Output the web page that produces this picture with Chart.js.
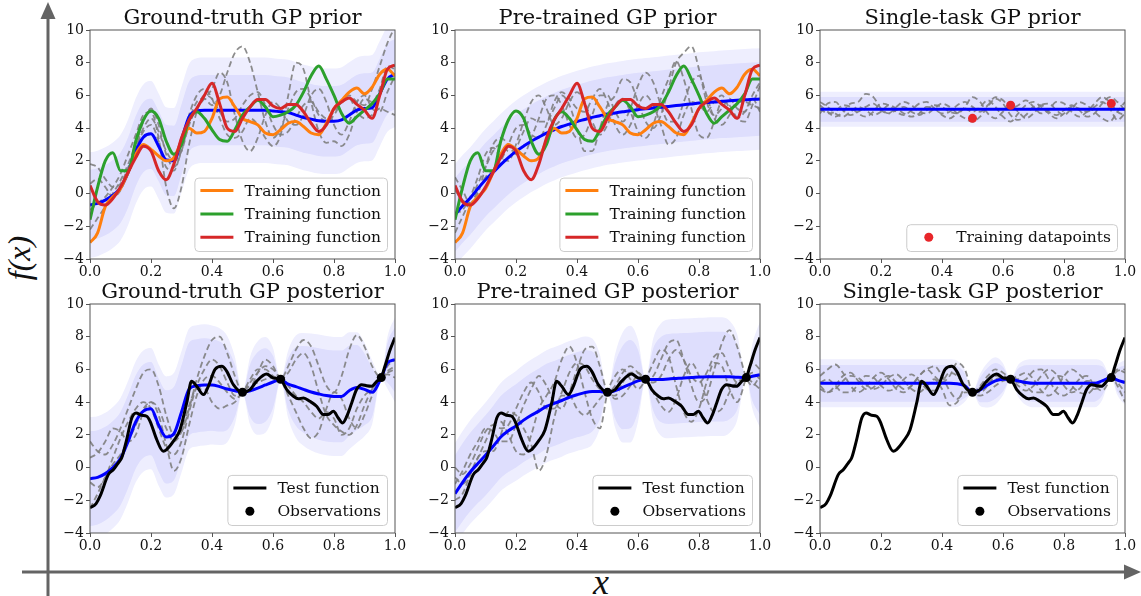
<!DOCTYPE html>
<html>
<head>
<meta charset="utf-8">
<script src="https://cdn.jsdelivr.net/npm/chart.js@4.4.1/dist/chart.umd.min.js"></script>
<style>
  html, body { margin: 0; padding: 0; background: #fff; }
  #fig { position: relative; width: 1141px; height: 596px; overflow: hidden; }
  #fig canvas { position: absolute; }
  .axlabel { position: absolute; font-family: 'Liberation Serif', serif; font-style: italic; color: #111; white-space: nowrap; line-height: 1; }
</style>
</head>
<body>
<div id="fig">
  <svg width="1141" height="596" style="position:absolute;left:0;top:0">
    <line x1="48" y1="596" x2="48" y2="16" stroke="#646464" stroke-width="3"/>
    <polygon points="48,2 40.5,19 55.5,19" fill="#646464"/>
    <line x1="22" y1="572" x2="1126" y2="572" stroke="#646464" stroke-width="3"/>
    <polygon points="1141,572 1124,564.5 1124,579.5" fill="#646464"/>
  </svg>
  <div class="axlabel" style="left:19px;top:258px;font-size:32px;transform:translate(-50%,-50%) rotate(-90deg)">f(x)</div>
  <div class="axlabel" style="left:601px;top:582px;font-size:36px;transform:translate(-50%,-50%)">x</div>
  <canvas id="gtPrior" width="367" height="283"></canvas>
  <canvas id="ptPrior" width="367" height="283"></canvas>
  <canvas id="stPrior" width="367" height="283"></canvas>
  <canvas id="gtPost" width="367" height="283"></canvas>
  <canvas id="ptPost" width="367" height="283"></canvas>
  <canvas id="stPost" width="367" height="283"></canvas>
</div>
<script>
// x grids (prior panels use a regular grid, posterior grid hits the last observation at 0.955)
const xs = [0,0.025,0.05,0.075,0.1,0.125,0.15,0.175,0.2,0.225,0.25,0.275,0.3,0.325,0.35,0.375,0.4,0.425,0.45,0.475,0.5,0.525,0.55,0.575,0.6,0.625,0.65,0.675,0.7,0.725,0.75,0.775,0.8,0.825,0.85,0.875,0.9,0.925,0.95,0.975,1];
const xsPost = [0,0.025,0.05,0.075,0.1,0.125,0.15,0.175,0.2,0.225,0.25,0.275,0.3,0.325,0.35,0.375,0.4,0.425,0.45,0.475,0.5,0.525,0.55,0.575,0.6,0.625,0.65,0.675,0.7,0.725,0.75,0.775,0.8,0.825,0.85,0.875,0.9,0.925,0.955,0.975,1];
const xEnds = [0, 1];

// training functions (shared by the two multi-task priors)
const trainOrange = [-3.0,-2.4,-0.8,-0.2,0.3,1.3,2.4,3.0,2.7,2.3, 2.0,2.2,3.2,4.0,3.7,3.8,4.6,5.8,5.9,5.3, 4.6,4.4,4.2,3.7,3.6,3.9,4.3,4.4,4.1,3.7, 3.6,4.3,5.2,5.7,6.2,6.45,6.1,6.5,7.3,7.6, 7.2];
const trainGreen = [-1.6,0.4,2.0,2.5,1.4,1.4,3.2,4.5,5.05,4.6, 3.2,2.4,3.0,4.5,5.0,4.6,3.9,3.3,3.2,3.9, 4.8,5.3,5.7,5.3,4.7,4.8,5.0,5.4,6.2,7.2, 7.8,7.0,6.0,4.9,4.3,4.7,5.1,5.5,6.1,7.0, 7.0];
const trainRed = [0.5,-0.5,-0.7,-0.3,0.4,1.3,2.2,2.9,2.6,1.4, 0.85,1.8,3.4,4.5,5.2,6.0,6.75,5.5,4.0,3.8, 4.6,5.3,5.75,5.75,5.35,5.2,5.45,5.45,5.0,4.3, 3.8,4.2,5.2,5.6,5.85,5.45,5.1,4.6,6.0,7.6, 7.85];

// test function and its three observations
const testX = [0,0.02,0.033,0.06,0.077,0.093,0.104,0.12,0.137,0.151,0.169,0.186,0.197,0.219,0.24,0.251,0.273,0.295,0.317,0.333,0.35,0.372,0.388,0.41,0.432,0.448,0.47,0.5,0.525,0.546,0.579,0.601,0.625,0.645,0.667,0.683,0.7,0.721,0.743,0.765,0.781,0.798,0.814,0.828,0.842,0.858,0.874,0.891,0.907,0.923,0.94,0.955,0.967,0.984,1];
const testY = [-2.46,-2.2,-1.75,-0.43,-0.12,0.29,0.6,1.7,3.03,3.34,3.2,3.14,2.83,1.7,1.0,1.1,1.6,2.3,3.95,5.27,4.97,4.46,4.97,6.0,6.19,5.9,5.07,4.6,4.77,5.27,5.72,5.48,5.4,4.77,4.36,4.2,4.26,4.05,3.75,3.24,3.24,3.44,3.03,2.73,3.14,3.95,4.77,5.07,5.0,4.97,5.27,5.5,6.19,7.2,7.95];
const obsX = [0.5, 0.625, 0.955];
const obsY = [4.6, 5.4, 5.5];

// ground-truth GP prior
const gtPriorMean = [-0.7,-0.6,-0.4,-0.1,0.35,1.3,2.6,3.45,3.65,2.9, 2.05,2.0,3.3,4.7,5.05,5.1,5.1,5.1,5.1,5.1, 5.1,5.1,5.1,5.1,5.05,5.0,4.95,4.8,4.65,4.55, 4.45,4.42,4.42,4.5,4.8,5.1,5.2,5.25,6.1,7.0, 7.3];
const gtPriorSd = 2.15, gtPriorOuter = 1.5;
const gtPriorS1 = [-2.2,-1.5,-0.8,0.0,0.8,1.8,3.0,4.4,5.2,4.2, 2.4,1.6,2.6,4.4,5.6,5.8,5.4,6.0,7.4,8.6, 9.0,8.0,6.2,4.4,3.4,4.0,5.2,6.2,6.4,5.8, 4.8,4.4,4.8,5.6,6.0,5.6,5.4,6.4,7.8,9.2, 10.2];
const gtPriorS2 = [1.8,1.6,0.9,0.4,0.6,1.6,2.8,3.8,4.2,3.2, 1.6,1.4,2.8,4.8,6.0,6.4,5.8,4.6,3.6,3.4, 3.8,4.6,4.2,3.4,2.9,3.6,6.0,8.0,7.6,5.6, 3.8,3.1,3.2,2.9,3.6,5.0,5.8,5.6,6.4,7.8, 7.6];
const gtPriorS3 = [-1.0,-0.6,-0.2,0.4,1.2,2.4,3.6,4.8,5.0,3.4, 0.4,-0.9,0.4,3.0,5.0,6.0,5.8,5.0,4.4,4.6, 5.4,6.0,6.2,5.4,4.2,3.6,3.8,4.6,5.4,5.6, 5.0,4.6,5.0,5.6,5.8,5.0,4.6,4.8,5.2,5.0, 4.8];
const gtPriorS4 = [0.6,0.9,0.4,-0.2,0.2,1.4,2.8,4.0,4.6,3.8, 2.6,2.0,2.6,4.2,5.2,5.8,6.4,7.4,6.8,4.8, 3.2,2.6,3.4,4.8,5.6,5.2,4.4,4.2,4.8,6.0, 6.4,5.6,4.2,3.6,4.4,5.6,6.0,5.2,5.0,6.2, 7.2];

// pre-trained GP prior
const ptPriorMean = [-1.3,-0.75,-0.27,0.3,0.85,1.3,1.77,2.2,2.58,2.9, 3.2,3.45,3.7,3.9,4.1,4.25,4.4,4.53,4.66,4.76, 4.86,4.93,5.0,5.07,5.13,5.18,5.23,5.28,5.33,5.38, 5.43,5.48,5.53,5.57,5.6,5.64,5.67,5.7,5.73,5.76, 5.78];
const ptPriorSd = 2.25, ptPriorOuter = 1.38;
const ptPriorS1 = [-2.4,-1.4,-0.4,0.6,1.6,2.6,3.0,2.6,2.8,3.8, 4.6,4.4,4.4,5.2,6.0,5.4,4.0,2.6,2.6,4.0, 5.4,6.0,7.0,6.8,5.6,4.4,4.0,4.8,6.4,8.0, 8.6,9.0,7.6,5.6,4.8,5.2,5.8,5.2,5.0,6.0, 6.8];
const ptPriorS2 = [1.0,0.2,-0.6,0.0,1.6,3.0,3.4,3.0,2.4,2.4, 3.4,4.6,5.8,6.0,5.4,4.2,3.4,3.6,4.8,6.0, 6.0,5.0,4.4,5.2,6.6,7.4,6.8,5.4,4.4,4.4, 5.6,6.8,7.2,6.0,4.6,4.2,4.8,5.6,5.6,5.4, 5.2];
const ptPriorS3 = [-1.2,-1.0,-0.2,1.0,2.4,2.8,2.2,2.0,3.0,4.4, 5.6,6.0,5.2,4.2,4.6,5.6,6.2,5.6,4.4,3.6, 4.2,5.4,5.8,5.0,3.8,3.4,4.2,5.8,7.0,8.1, 7.0,5.2,3.6,3.4,4.4,5.6,5.4,4.6,4.4,5.4, 6.6];
const ptPriorS4 = [0.2,-0.4,-0.6,0.2,1.0,1.4,2.0,3.0,4.0,4.2, 3.6,3.4,4.2,5.6,6.2,5.8,5.2,5.0,5.8,6.4, 5.6,4.2,3.6,4.2,5.4,6.0,5.4,4.2,3.0,3.4, 4.8,5.6,5.4,5.0,5.6,6.0,5.2,4.6,5.0,5.8, 5.0];

// single-task GP prior
const stPriorMean = 5.15, stPriorSd = 0.76, stPriorOuter = 1.41;
const stPriorS1 = [5.4,5.0,4.7,5.0,5.5,5.6,6.1,5.9,5.2,4.9, 5.1,5.3,5.0,4.8,5.1,5.4,5.3,5.0,4.9,5.3, 5.9,5.6,4.9,4.6,5.0,5.4,5.0,4.6,4.9,5.4, 5.5,5.1,4.8,5.2,5.6,5.4,5.0,4.6,4.4,5.0, 5.6];
const stPriorS2 = [4.9,5.5,5.6,5.1,4.8,5.0,5.3,5.5,5.1,4.9, 5.3,5.6,5.4,5.0,4.9,5.2,5.5,5.3,4.9,4.6, 4.4,4.7,5.3,5.8,5.5,4.8,4.5,4.8,5.3,5.4, 5.0,4.8,5.1,5.4,5.1,4.7,4.9,5.5,5.9,5.6, 5.1];
const stPriorS3 = [5.2,4.9,5.0,5.4,5.3,4.9,4.7,5.0,5.5,5.4, 5.0,4.8,5.1,5.5,5.6,5.2,4.9,5.0,5.4,5.6, 5.3,5.0,5.4,5.9,5.7,5.2,5.4,5.7,5.3,4.9, 5.1,5.6,5.5,5.0,4.7,5.0,5.5,5.9,5.6,5.0, 4.8];
const stPriorS4 = [5.6,5.3,4.9,4.7,5.0,5.3,5.1,4.8,5.0,5.4, 5.2,4.9,4.7,4.9,5.3,5.2,4.8,4.6,4.9,5.2, 5.0,5.3,5.7,5.3,4.7,4.4,4.9,5.4,5.6,5.3, 4.9,4.6,4.9,5.3,5.2,5.0,5.3,5.6,5.2,4.5, 4.9];

// ground-truth GP posterior
const gtPostMean = [-0.68,-0.6,-0.37,0.0,0.55,1.6,2.8,3.45,3.6,2.6, 1.87,2.07,3.4,4.8,5.0,5.05,5.05,4.95,4.8,4.7, 4.6,4.7,4.86,5.05,5.23,5.37,5.1,4.95,4.78,4.62, 4.5,4.4,4.35,4.35,4.7,4.9,4.78,4.6,5.5,6.4, 6.6];
const gtPostSd = [2.9,2.88,2.86,2.85,2.85,2.85,2.85,2.85,2.85,2.85, 2.85,2.85,2.85,2.85,2.85,2.85,2.8,2.75,2.5,1.6, 0.05,1.6,2.2,2.25,1.6,0.05,1.6,2.4,2.65,2.75, 2.8,2.8,2.8,2.8,2.75,2.6,2.2,1.5,0.05,1.2, 2.0];
const gtPostOuter = 1.3;
const gtPostS1 = [1.6,1.0,0.8,1.4,2.4,3.6,4.8,5.8,6.0,5.0, 3.2,2.0,2.2,3.6,5.4,6.8,7.8,8.0,7.0,5.6, 4.6,4.8,5.8,6.6,6.2,5.4,6.2,7.2,7.8,7.4, 6.2,5.0,4.6,5.6,7.2,8.1,7.4,6.2,5.5,5.9, 6.2];
const gtPostS2 = [0.6,0.9,1.6,2.4,2.2,1.6,2.0,3.4,4.0,3.2, 1.4,-0.2,0.6,2.6,4.4,5.4,5.6,5.2,4.6,4.2, 4.6,5.2,5.8,6.2,6.0,5.4,4.4,3.4,2.4,1.8, 2.2,3.6,4.6,4.2,3.0,2.4,3.2,4.4,5.5,6.2, 6.6];
const gtPostS3 = [-0.9,-1.2,-0.6,0.6,1.8,2.8,3.6,4.0,3.6,2.4, 1.2,0.8,1.6,3.4,5.0,6.0,6.6,6.2,5.2,4.4, 4.6,5.4,6.0,6.0,5.6,5.4,5.8,6.6,7.0,6.2, 4.6,3.2,2.6,2.2,2.0,2.6,3.8,4.8,5.5,5.8, 6.0];
const gtPostS4 = [-2.5,-1.6,-0.6,0.2,0.8,1.6,2.6,3.6,4.0,3.6, 2.4,1.6,2.2,3.8,4.8,4.8,4.0,3.6,3.8,4.0, 4.6,5.0,5.2,5.4,5.5,5.4,5.0,4.4,4.0,3.4, 3.0,3.4,3.0,2.0,2.4,3.6,4.4,4.8,5.5,5.7, 5.5];

// pre-trained GP posterior
const ptPostMean = [-1.6,-0.9,-0.27,0.25,0.75,1.3,1.87,2.25,2.55,2.9, 3.2,3.45,3.74,3.92,4.1,4.3,4.45,4.58,4.65,4.65, 4.58,4.7,4.9,5.1,5.3,5.4,5.38,5.38,5.42,5.45, 5.48,5.5,5.53,5.55,5.56,5.56,5.55,5.52,5.5,5.58, 5.68];
const ptPostSd = [2.35,2.38,2.4,2.42,2.45,2.47,2.5,2.52,2.54,2.56, 2.58,2.6,2.6,2.6,2.6,2.6,2.6,2.6,2.45,1.7, 0.05,1.7,2.55,2.7,1.9,0.05,1.9,2.6,2.75,2.75, 2.75,2.75,2.75,2.75,2.75,2.75,2.6,2.0,0.05,1.5, 2.45];
const ptPostOuter = 1.32;
const ptPostS1 = [-1.0,-0.2,0.8,1.6,2.4,2.2,1.6,1.6,2.6,3.8, 4.8,5.6,5.0,4.0,3.6,4.6,6.0,7.2,7.4,6.2, 4.6,4.4,5.2,5.8,5.8,5.4,5.6,6.6,7.6,7.8, 6.6,5.0,4.0,4.4,6.0,7.6,8.4,7.4,5.5,5.0, 5.6];
const ptPostS2 = [-0.6,-1.0,-0.4,0.6,1.6,2.6,2.8,2.0,1.0,0.8, 2.0,3.6,4.4,5.2,6.6,7.4,6.4,4.6,3.0,2.4, 4.6,5.6,6.0,5.4,4.8,5.4,6.4,7.2,6.8,5.0, 3.4,2.8,3.6,5.2,6.4,6.2,4.8,4.0,5.5,6.4, 6.0];
const ptPostS3 = [-2.0,-1.6,-0.4,0.6,1.0,1.0,2.0,3.4,3.2,2.4, 1.4,-0.2,0.8,3.0,4.4,4.4,3.6,3.2,3.6,4.2, 4.6,4.2,4.4,5.0,5.6,5.4,4.6,3.8,3.4,4.2, 5.6,6.4,5.6,4.2,3.4,3.6,4.6,5.2,5.5,5.2, 4.8];
const ptPostS4 = [0.0,-0.4,0.2,1.2,2.2,2.6,2.4,2.6,3.6,4.6, 5.2,4.6,3.6,3.6,4.6,5.8,6.4,6.2,5.4,4.8, 4.6,5.0,5.8,6.2,5.8,5.4,5.2,5.6,6.6,7.2, 6.6,5.6,5.2,5.8,6.8,7.0,6.0,5.2,5.5,5.8, 5.4];

// single-task GP posterior
const stPostMean = [5.15,5.15,5.15,5.15,5.15,5.15,5.15,5.15,5.15,5.15, 5.15,5.15,5.15,5.15,5.15,5.15,5.15,5.15,5.12,5.0, 4.6,4.75,5.05,5.3,5.4,5.4,5.3,5.2,5.15,5.15, 5.15,5.15,5.15,5.15,5.15,5.15,5.15,5.3,5.5,5.35, 5.2];
const stPostSd = [1.12,1.12,1.12,1.12,1.12,1.12,1.12,1.12,1.12,1.12, 1.12,1.12,1.12,1.12,1.12,1.12,1.12,1.12,1.08,0.75, 0.03,0.75,1.05,1.1,0.75,0.03,0.75,1.05,1.12,1.12, 1.12,1.12,1.12,1.12,1.12,1.12,1.12,0.9,0.03,0.7, 1.05];
const stPostOuter = 1.31;
const stPostS1 = [5.6,6.0,6.3,5.8,5.0,4.6,4.9,5.5,5.8,5.4, 4.8,4.6,5.0,5.6,6.0,6.2,5.6,4.7,4.2,4.6, 4.6,5.0,5.6,6.0,5.8,5.4,5.0,4.7,5.0,5.6, 6.0,5.7,5.0,4.6,4.8,5.3,5.2,5.0,5.5,5.0, 4.0];
const stPostS2 = [4.8,4.6,5.0,5.6,5.8,5.3,4.8,4.9,5.4,5.6, 5.2,4.8,5.0,5.6,6.0,5.6,5.2,5.6,6.4,6.0, 4.6,4.4,4.6,5.0,5.3,5.4,5.6,5.8,5.4,4.7, 4.4,4.8,5.6,6.0,5.7,5.2,4.8,5.0,5.5,5.9, 6.0];
const stPostS3 = [5.2,5.4,5.0,4.6,4.6,5.1,5.6,5.5,5.0,4.7, 4.9,5.4,5.7,5.3,4.8,4.7,5.2,5.8,5.6,4.9, 4.6,4.9,5.2,5.4,5.5,5.4,5.2,5.4,5.9,6.0, 5.4,4.6,4.4,4.8,5.4,5.6,5.0,4.7,5.5,6.0, 5.8];
const stPostS4 = [5.0,4.6,4.8,5.3,5.6,5.5,5.1,4.8,5.0,5.5, 5.7,5.3,4.8,4.6,5.0,5.4,4.8,3.8,4.0,4.8, 4.6,4.6,5.0,5.6,5.6,5.4,5.4,5.0,4.6,4.6, 5.1,5.6,5.5,5.0,4.6,4.5,4.9,5.3,5.5,5.2, 4.6];

const FONT = '"DejaVu Serif", serif';
const BLUE = '#0000ff', ORANGE = '#ff7f0e', GREEN = '#2ca02c', RED = '#d62728', DOT_RED = '#e8262a';
const BAND = 'rgba(20, 20, 235, 0.07)';
const SPINE = '#555555';

Chart.defaults.font.family = FONT;

function line(xArr, yArr, opts) {
  return Object.assign({
    data: xArr.map((x, i) => ({ x, y: yArr[i] })),
    pointRadius: 0,
    borderWidth: 3,
    fill: false,
    cubicInterpolationMode: 'monotone'
  }, opts);
}

function dots(xArr, yArr, color, label) {
  return line(xArr, yArr, { showLine: false, pointRadius: 4.5, pointBackgroundColor: color, pointBorderWidth: 0, borderColor: color, order: 0, legendLabel: label });
}

function samples(xArr, list) {
  return list.map(s => line(xArr, s, { borderColor: 'rgba(128,128,128,0.9)', borderWidth: 1.8, borderDash: [6, 3.5], order: 6 }));
}

// upper edge fills down to the lower edge that follows it
function band(xArr, mean, half, scale, order) {
  const m = i => Array.isArray(mean) ? mean[i] : mean;
  const h = i => (Array.isArray(half) ? half[i] : half) * scale;
  return [
    line(xArr, xArr.map((_, i) => m(i) + h(i)), { borderWidth: 0, borderColor: 'transparent', backgroundColor: BAND, fill: '+1', order }),
    line(xArr, xArr.map((_, i) => m(i) - h(i)), { borderWidth: 0, borderColor: 'transparent', order })
  ];
}

function trainingLines() {
  return [
    line(xs, trainOrange, { borderColor: ORANGE, order: 3, legendLabel: 'Training function' }),
    line(xs, trainGreen, { borderColor: GREEN, order: 2, legendLabel: 'Training function' }),
    line(xs, trainRed, { borderColor: RED, order: 1, legendLabel: 'Training function' })
  ];
}

function testLines() {
  return [
    line(testX, testY, { borderColor: '#000', order: 1, legendLabel: 'Test function' }),
    dots(obsX, obsY, '#000', 'Observations')
  ];
}

const frame = {
  id: 'frame',
  afterDatasetsDraw(chart) {
    const { ctx, chartArea: a } = chart;
    ctx.save();
    ctx.strokeStyle = SPINE;
    ctx.lineWidth = 1;
    ctx.strokeRect(a.left, a.top, a.right - a.left, a.bottom - a.top);
    ctx.restore();
  }
};

// legend boxed in the lower right corner of the plot area
const insetLegend = {
  id: 'insetLegend',
  afterDraw(chart) {
    const items = chart.data.datasets.filter(d => d.legendLabel);
    if (!items.length) return;
    const { ctx, chartArea: a } = chart;
    ctx.save();
    ctx.font = '15.5px ' + FONT;
    const textW = Math.max(...items.map(d => ctx.measureText(d.legendLabel).width));
    const w = 49.5 + textW + 6.5;
    const h = 12.5 + (items.length - 1) * 23.3 + 14.3;
    const x0 = a.right - 7.5 - w, y0 = a.bottom - 7.5 - h;
    ctx.beginPath();
    ctx.roundRect(x0, y0, w, h, 4);
    ctx.fillStyle = 'rgba(255,255,255,0.8)';
    ctx.fill();
    ctx.strokeStyle = '#cccccc';
    ctx.lineWidth = 1;
    ctx.stroke();
    items.forEach((d, i) => {
      const cy = y0 + 12.5 + i * 23.3;
      if (d.showLine === false) {
        ctx.beginPath();
        ctx.arc(x0 + 22, cy, d.pointRadius, 0, Math.PI * 2);
        ctx.fillStyle = d.pointBackgroundColor;
        ctx.fill();
      } else {
        ctx.beginPath();
        ctx.moveTo(x0 + 5.5, cy);
        ctx.lineTo(x0 + 38.5, cy);
        ctx.strokeStyle = d.borderColor;
        ctx.lineWidth = d.borderWidth;
        ctx.stroke();
      }
      ctx.fillStyle = '#111';
      ctx.textBaseline = 'middle';
      ctx.fillText(d.legendLabel, x0 + 49.5, cy + 1);
    });
    ctx.restore();
  }
};

function axisStyle() {
  return {
    grid: { drawOnChartArea: false, drawTicks: true, tickLength: 4, color: SPINE, lineWidth: 1 },
    border: { display: false }
  };
}

function makePanel(id, left, top, title, datasets) {
  const canvas = document.getElementById(id);
  canvas.style.left = (left - 50) + 'px';
  canvas.style.top = (top - 30) + 'px';
  return new Chart(canvas, {
    type: 'line',
    data: { datasets },
    options: {
      responsive: false,
      animation: false,
      devicePixelRatio: 1,
      events: [],
      layout: { padding: { left: 0, right: 12, top: 0, bottom: 0 } },
      plugins: {
        legend: { display: false },
        tooltip: { enabled: false },
        title: {
          display: true, text: title, fullSize: false, color: '#111',
          font: { family: FONT, size: 21, weight: 'normal', lineHeight: 1 },
          padding: { top: 8, bottom: 1 }
        }
      },
      scales: {
        x: Object.assign(axisStyle(), {
          type: 'linear', min: 0, max: 1,
          ticks: { stepSize: 0.2, color: '#111', padding: 1, maxRotation: 0, autoSkip: false,
            font: { family: FONT, size: 14 }, callback: v => v.toFixed(1) },
          afterFit: s => { s.height = 24; s.paddingLeft = 0; s.paddingRight = 0; }
        }),
        y: Object.assign(axisStyle(), {
          min: -4, max: 10,
          ticks: { stepSize: 2, color: '#111', padding: 2,
            font: { family: FONT, size: 14 }, callback: v => v < 0 ? '\u2212' + Math.abs(v) : String(v) },
          afterFit: s => { s.width = 50; s.paddingTop = 0; s.paddingBottom = 0; }
        })
      }
    },
    plugins: [frame, insetLegend]
  });
}

const colLeft = [90, 455, 820], rowTop = [30, 304];

makePanel('gtPrior', colLeft[0], rowTop[0], 'Ground-truth GP prior', [
  ...trainingLines(),
  line(xs, gtPriorMean, { borderColor: BLUE, order: 4 }),
  ...samples(xs, [gtPriorS1, gtPriorS2, gtPriorS3, gtPriorS4]),
  ...band(xs, gtPriorMean, gtPriorSd, 1, 9),
  ...band(xs, gtPriorMean, gtPriorSd, gtPriorOuter, 10)
]);

makePanel('ptPrior', colLeft[1], rowTop[0], 'Pre-trained GP prior', [
  ...trainingLines(),
  line(xs, ptPriorMean, { borderColor: BLUE, order: 4 }),
  ...samples(xs, [ptPriorS1, ptPriorS2, ptPriorS3, ptPriorS4]),
  ...band(xs, ptPriorMean, ptPriorSd, 1, 9),
  ...band(xs, ptPriorMean, ptPriorSd, ptPriorOuter, 10)
]);

makePanel('stPrior', colLeft[2], rowTop[0], 'Single-task GP prior', [
  dots(obsX, obsY, DOT_RED, 'Training datapoints'),
  line(xEnds, [stPriorMean, stPriorMean], { borderColor: BLUE, order: 4 }),
  ...samples(xs, [stPriorS1, stPriorS2, stPriorS3, stPriorS4]),
  ...band(xEnds, stPriorMean, stPriorSd, 1, 9),
  ...band(xEnds, stPriorMean, stPriorSd, stPriorOuter, 10)
]);

makePanel('gtPost', colLeft[0], rowTop[1], 'Ground-truth GP posterior', [
  ...testLines(),
  line(xsPost, gtPostMean, { borderColor: BLUE, order: 4 }),
  ...samples(xsPost, [gtPostS1, gtPostS2, gtPostS3, gtPostS4]),
  ...band(xsPost, gtPostMean, gtPostSd, 1, 9),
  ...band(xsPost, gtPostMean, gtPostSd, gtPostOuter, 10)
]);

makePanel('ptPost', colLeft[1], rowTop[1], 'Pre-trained GP posterior', [
  ...testLines(),
  line(xsPost, ptPostMean, { borderColor: BLUE, order: 4 }),
  ...samples(xsPost, [ptPostS1, ptPostS2, ptPostS3, ptPostS4]),
  ...band(xsPost, ptPostMean, ptPostSd, 1, 9),
  ...band(xsPost, ptPostMean, ptPostSd, ptPostOuter, 10)
]);

makePanel('stPost', colLeft[2], rowTop[1], 'Single-task GP posterior', [
  ...testLines(),
  line(xsPost, stPostMean, { borderColor: BLUE, order: 4 }),
  ...samples(xsPost, [stPostS1, stPostS2, stPostS3, stPostS4]),
  ...band(xsPost, stPostMean, stPostSd, 1, 9),
  ...band(xsPost, stPostMean, stPostSd, stPostOuter, 10)
]);
</script>
</body>
</html>
